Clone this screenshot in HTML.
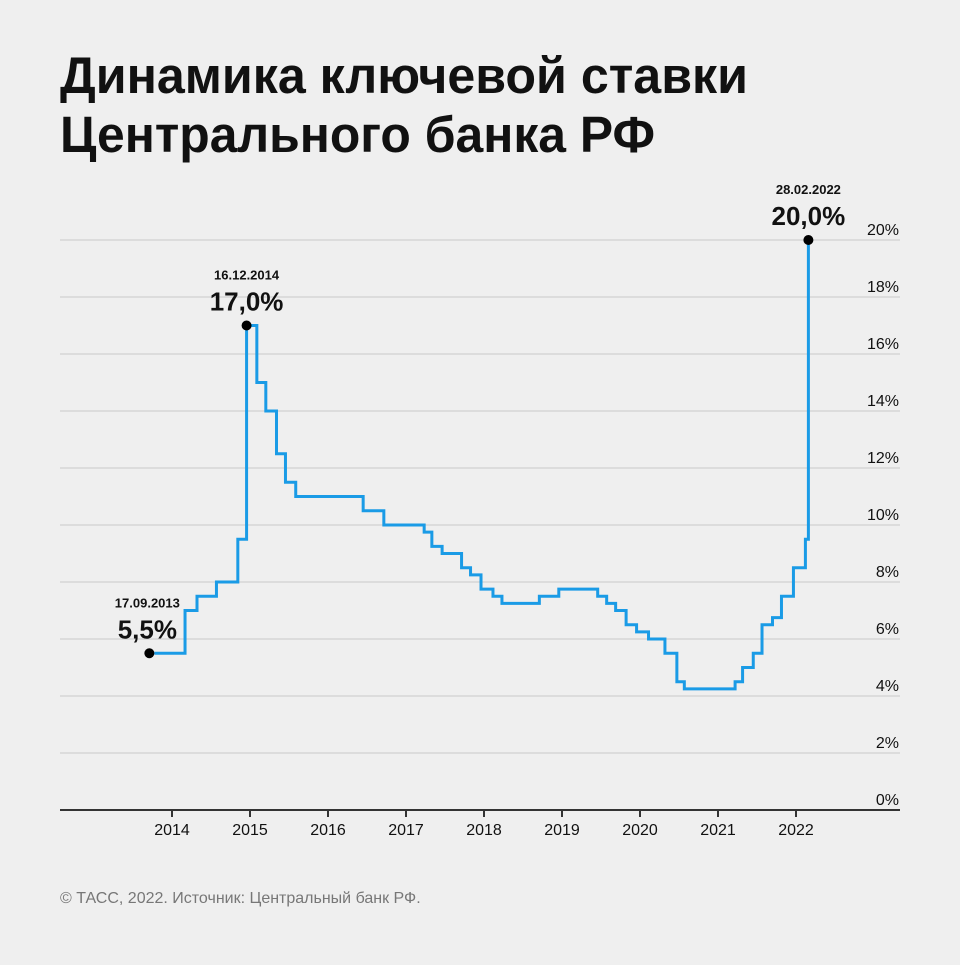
<!DOCTYPE html>
<html><head><meta charset="utf-8"><style>
html,body{margin:0;padding:0;background:#efefef;}
body{width:960px;height:960px;overflow:hidden;font-family:"Liberation Sans",sans-serif;}
</style></head><body>
<svg width="960" height="960" xmlns="http://www.w3.org/2000/svg">
<rect width="960" height="960" fill="#efefef"/>
<text x="60" y="93" font-size="51" font-weight="bold" fill="#111" textLength="688" lengthAdjust="spacingAndGlyphs">Динамика ключевой ставки</text>
<text x="60" y="152" font-size="51" font-weight="bold" fill="#111" textLength="595" lengthAdjust="spacingAndGlyphs">Центрального банка РФ</text>
<g id="grid"></g><g id="xaxis"></g><g id="line"></g><g id="ann"></g>
<text x="60" y="903" font-size="16" fill="#777">© ТАСС, 2022. Источник: Центральный банк РФ.</text>
</svg>
<script>
const yTicks=[0,2,4,6,8,10,12,14,16,18,20];
const xYears=[2014,2015,2016,2017,2018,2019,2020,2021,2022];
const dates=["2013-09-17","2014-03-03","2014-04-28","2014-07-28","2014-11-05","2014-12-16","2015-02-02","2015-03-16","2015-05-05","2015-06-16","2015-08-03","2016-06-14","2016-09-19","2017-03-27","2017-05-02","2017-06-19","2017-09-18","2017-10-30","2017-12-18","2018-02-12","2018-03-26","2018-09-17","2018-12-17","2019-06-17","2019-07-29","2019-09-09","2019-10-28","2019-12-16","2020-02-10","2020-04-27","2020-06-22","2020-07-27","2021-03-22","2021-04-26","2021-06-15","2021-07-26","2021-09-13","2021-10-25","2021-12-20","2022-02-14","2022-02-28"];
const rates=[5.5,7,7.5,8,9.5,17,15,14,12.5,11.5,11,10.5,10,9.75,9.25,9,8.5,8.25,7.75,7.5,7.25,7.5,7.75,7.5,7.25,7,6.5,6.25,6,5.5,4.5,4.25,4.5,5,5.5,6.5,6.75,7.5,8.5,9.5,20];
const annotations=[{i:0,date:"17.09.2013",label:"5,5%",dx:-2},{i:5,date:"16.12.2014",label:"17,0%",dx:0},{i:40,date:"28.02.2022",label:"20,0%",dx:0}];
const NS="http://www.w3.org/2000/svg";
const y=v=>810-v*28.5;
function dec(s){const [a,b,c]=s.split("-").map(Number);const t=Date.UTC(a,b-1,c),s0=Date.UTC(a,0,1),s1=Date.UTC(a+1,0,1);return a+(t-s0)/(s1-s0);}
const x=d=>172+(d-2014)*78;
function mk(tag,attrs,parent){const e=document.createElementNS(NS,tag);for(const k in attrs)e.setAttribute(k,attrs[k]);document.getElementById(parent).appendChild(e);return e;}
yTicks.forEach(t=>{
 const l=mk("line",{x1:60,x2:900,y1:y(t),y2:y(t),stroke:t===0?"#333":"#d6d6d6","stroke-width":t===0?2:1.5},"grid");
 
 
 const tx=mk("text",{x:899,y:y(t)-5,"font-size":16,"text-anchor":"end",fill:"#111"},"grid");
 tx.textContent=t+"%";
 
 
});
xYears.forEach(yr=>{
 const tk=mk("line",{x1:x(yr),x2:x(yr),y1:810,y2:817,stroke:"#333","stroke-width":2},"xaxis");
 
 
 const tx=mk("text",{x:x(yr),y:835,"font-size":16,"text-anchor":"middle",fill:"#111"},"xaxis");
 tx.textContent=yr;
 
 
});
let d="";
dates.forEach((s,i)=>{const xv=x(dec(s));if(i===0)d+="M"+(xv+5)+","+y(rates[0]);else d+="H"+xv+"V"+y(rates[i]);});
const p=mk("path",{d:d,fill:"none",stroke:"#1a9be6","stroke-width":3},"line");


annotations.forEach(a=>{
 const cx=x(dec(dates[a.i])),cy=y(rates[a.i]);
 const c=mk("circle",{cx:cx,cy:cy,r:5,fill:"#000"},"ann");
 
 
 const t1=mk("text",{x:cx+a.dx,y:cy-46,"font-size":13,"font-weight":"bold","text-anchor":"middle",fill:"#111"},"ann");
 t1.textContent=a.date;
 
 
 const t2=mk("text",{x:cx+a.dx,y:cy-15,"font-size":26,"font-weight":"bold","text-anchor":"middle",fill:"#111"},"ann");
 t2.textContent=a.label;
 
 
});
</script>
</body></html>
